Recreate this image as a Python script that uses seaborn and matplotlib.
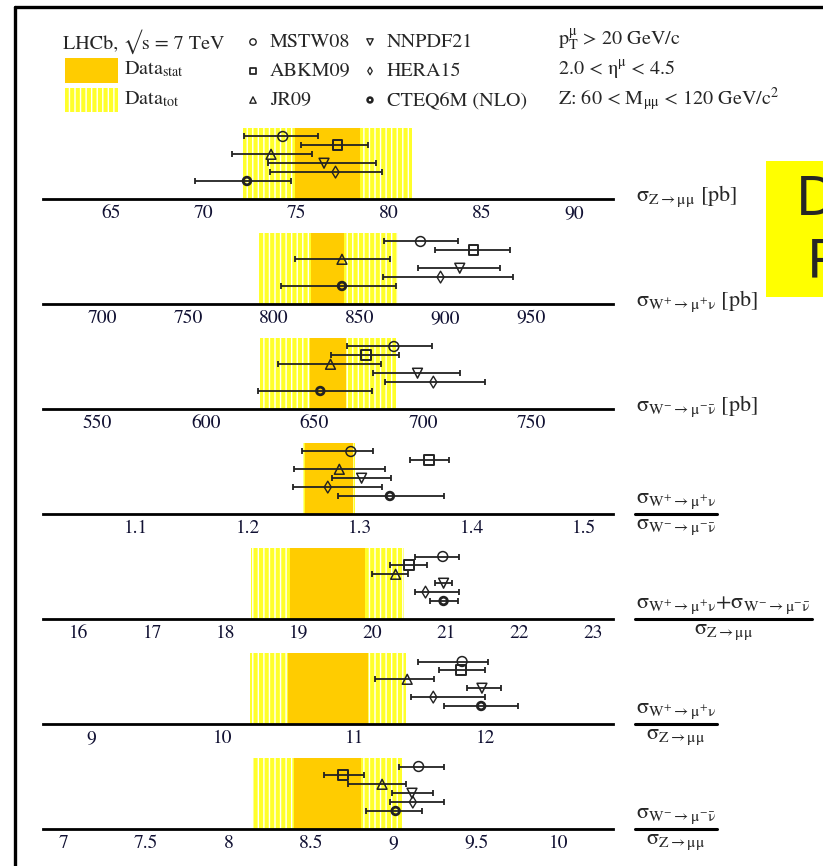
import numpy as np
import pandas as pd
import matplotlib
matplotlib.use("Agg")
import matplotlib.pyplot as plt
import seaborn as sns
from matplotlib.ticker import MultipleLocator, FormatStrFormatter
from matplotlib.patches import Rectangle
from matplotlib.lines import Line2D

# ---------------- data ----------------
models = ["MSTW08", "ABKM09", "JR09", "NNPDF21", "HERA15", "CTEQ6M (NLO)"]

# sigma Z [pb]
z_pred = [74.28, 77.24, 73.65, 76.51, 77.13, 72.35]
z_lo = [72.21, 75.27, 71.54, 73.49, 73.61, 69.56]
z_hi = [76.18, 78.91, 75.87, 79.33, 79.66, 74.73]
z_data = [76.7, 1.75, 4.58]          # central, stat, total

# sigma W+ [pb]
wp_pred = [885.6, 916.5, 839.8, 908.5, 897.3, 839.8]
wp_lo = [864.4, 894.1, 812.5, 883.9, 863.7, 804.5]
wp_hi = [907.3, 937.7, 867.8, 932.2, 939.3, 871.6]
wp_data = [831.4, 9.5, 40.8]

# sigma W- [pb]
wm_pred = [686.6, 673.7, 657.4, 697.5, 704.8, 652.7]
wm_lo = [665.0, 657.8, 633.2, 677.2, 682.5, 623.9]
wm_hi = [704.2, 689.2, 680.7, 717.0, 728.4, 676.5]
wm_data = [656.2, 8.2, 31.4]

# W+/W-
rpm_pred = [1.2918, 1.3616, 1.2815, 1.3014, 1.2712, 1.3267]
rpm_lo = [1.2479, 1.3445, 1.2411, 1.2753, 1.2404, 1.2805]
rpm_hi = [1.3120, 1.3791, 1.3223, 1.3277, 1.3199, 1.3747]
rpm_data = [1.272, 0.0213, 0.0233]

# (W+ + W-)/Z
rwz_pred = [20.957, 20.498, 20.315, 20.968, 20.722, 20.968]
rwz_lo = [20.576, 20.237, 19.992, 20.853, 20.576, 20.785]
rwz_hi = [21.176, 20.743, 20.487, 21.082, 21.176, 21.161]
rwz_data = [19.39, 0.51, 1.04]

# W+/Z
rpz_pred = [11.819, 11.810, 11.402, 11.970, 11.600, 11.964]
rpz_lo = [11.481, 11.641, 11.154, 11.853, 11.431, 11.679]
rpz_hi = [12.014, 11.993, 11.606, 12.116, 11.993, 12.247]
rpz_data = [10.80, 0.305, 0.59]

# W-/Z
rmz_pred = [9.151, 8.691, 8.930, 9.111, 9.116, 9.012]
rmz_lo = [9.035, 8.577, 8.721, 8.988, 8.977, 8.831]
rmz_hi = [9.302, 8.819, 9.077, 9.239, 9.302, 9.174]
rmz_data = [8.60, 0.204, 0.45]

# ---------------- style ----------------
sns.set_theme(style="white")
plt.rcParams["font.family"] = ["STIXGeneral", "DejaVu Sans"]
plt.rcParams["mathtext.fontset"] = "stix"
plt.rcParams["hatch.linewidth"] = 1.0

W, H = 823, 866
fig = plt.figure(figsize=(W / 100, H / 100), dpi=100)
fig.patch.set_facecolor("white")

ov = fig.add_axes([0, 0, 1, 1], zorder=0)
ov.set_xlim(0, W)
ov.set_ylim(H, 0)
ov.axis("off")

STAT_C = "#FFCC00"
TOT_C = "#FFFF2A"
EDGE = "#222222"

marker_style = {
    "MSTW08": dict(marker="o", s=50, linewidth=1.1),
    "ABKM09": dict(marker="s", s=50, linewidth=1.4),
    "JR09": dict(marker="^", s=50, linewidth=1.1),
    "NNPDF21": dict(marker="v", s=50, linewidth=1.1),
    "HERA15": dict(marker="d", s=36, linewidth=1.0),
    "CTEQ6M (NLO)": dict(marker="o", s=30, linewidth=2.0),
}

panels = [
    dict(pred=z_pred, lo=z_lo, hi=z_hi, data=z_data, xlim=(61.34, 92.11), major=5, minor=1),
    dict(pred=wp_pred, lo=wp_lo, hi=wp_hi, data=wp_data, xlim=(665.4, 997.9), major=50, minor=10),
    dict(pred=wm_pred, lo=wm_lo, hi=wm_hi, data=wm_data, xlim=(524.9, 787.6), major=50, minor=10),
    dict(pred=rpm_pred, lo=rpm_lo, hi=rpm_hi, data=rpm_data, xlim=(1.0168, 1.526), major=0.1, minor=0.02),
    dict(pred=rwz_pred, lo=rwz_lo, hi=rwz_hi, data=rwz_data, xlim=(15.514, 23.275), major=1, minor=0.2),
    dict(pred=rpz_pred, lo=rpz_lo, hi=rpz_hi, data=rpz_data, xlim=(8.634, 12.966), major=1, minor=0.2),
    dict(pred=rmz_pred, lo=rmz_lo, hi=rmz_hi, data=rmz_data, xlim=(6.877, 10.328), major=0.5, minor=0.1),
]

ROW_PX = 8.9
Y_AXIS = -18 / ROW_PX
Y_BAND = 5.955
Y_TOP = 6.3
ax_h_px = (Y_TOP - Y_AXIS) * ROW_PX
band_frac = (Y_BAND - Y_AXIS) / (Y_TOP - Y_AXIS)
rows = np.arange(len(models))[::-1]

axis_y_px = [199 + 105 * i for i in range(7)]
X0, X1 = 43, 613

for p, ay in zip(panels, axis_y_px):
    ax = fig.add_axes([X0 / W, 1 - ay / H, (X1 - X0) / W, ax_h_px / H], zorder=2)
    ax.set_facecolor("none")
    c, st, tot = p["data"]
    ax.axvspan(c - tot, c + tot, ymin=0, ymax=band_frac, facecolor=TOT_C,
               edgecolor="white", hatch="|||", linewidth=0, zorder=1)
    ax.axvspan(c - st, c + st, ymin=0, ymax=band_frac, facecolor=STAT_C,
               linewidth=0, zorder=1.5)
    df = pd.DataFrame({"model": models, "value": p["pred"], "lo": p["lo"],
                       "hi": p["hi"], "row": rows})
    ax.errorbar(df["value"], df["row"],
                xerr=[df["value"] - df["lo"], df["hi"] - df["value"]],
                fmt="none", ecolor=EDGE, elinewidth=1.3, capsize=2.4,
                capthick=1.3, zorder=3)
    for _, r in df.iterrows():
        sty = marker_style[r["model"]]
        sns.scatterplot(x=[r["value"]], y=[r["row"]], ax=ax, facecolor="none",
                        edgecolor=EDGE, zorder=4, legend=False, **sty)
    ax.set_xlim(*p["xlim"])
    ax.set_ylim(Y_AXIS, Y_TOP)
    ax.set_xlabel("")
    ax.set_ylabel("")
    ax.set_yticks([])
    for s in ["top", "left", "right"]:
        ax.spines[s].set_visible(False)
    ax.spines["bottom"].set_linewidth(2.0)
    ax.spines["bottom"].set_color("black")
    ax.xaxis.set_major_locator(MultipleLocator(p["major"]))
    ax.xaxis.set_minor_locator(MultipleLocator(p["minor"]))
    ax.xaxis.set_major_formatter(FormatStrFormatter("%g"))
    ax.tick_params(axis="x", which="major", direction="in", length=8.6, width=1.4,
                   labelsize=14, pad=4, color="black", labelcolor="#111133")
    ax.tick_params(axis="x", which="minor", direction="in", length=4.3, width=1.4,
                   color="black")
    for lab in ax.get_xticklabels():
        lab.set_family("STIXGeneral")

# ---------------- header ----------------
HF = 14.5
ov.text(63, 42, "LHCb, \u221As = 7 TeV", fontsize=HF, va="center", ha="left")
ov.add_patch(Rectangle((65, 58), 53, 25, facecolor=STAT_C, linewidth=0))
ov.add_patch(Rectangle((65, 88), 53, 24, facecolor=TOT_C, edgecolor="white",
                       hatch="|||", linewidth=0))
ov.text(124, 69, r"Data$_{\mathrm{stat}}$", fontsize=HF, va="center", ha="left")
ov.text(124, 99, r"Data$_{\mathrm{tot}}$", fontsize=HF, va="center", ha="left")

leg_pos = [(253, 42), (253, 71), (253, 100), (370, 42), (370, 71), (370, 100)]
for m, (lx, ly) in zip(models, leg_pos):
    sty = dict(marker_style[m])
    sty["s"] = sty["s"] * 0.42
    sty["linewidth"] = sty["linewidth"] * 0.9
    sns.scatterplot(x=[lx], y=[ly], ax=ov, facecolor="none", edgecolor=EDGE,
                    legend=False, **sty)
    ov.text(lx + 17, ly, m, fontsize=HF, va="center", ha="left")

ov.text(558, 40, r"p$_{\mathrm{T}}^{\mathrm{\mu}}$ > 20 GeV/c", fontsize=HF, va="center", ha="left")
ov.text(558, 70, r"2.0 < $\mathrm{\eta}^{\mathrm{\mu}}$ < 4.5", fontsize=HF, va="center", ha="left")
ov.text(558, 99, r"Z: 60 < M$_{\mathrm{\mu\mu}}$ < 120 GeV/c$^{2}$", fontsize=HF, va="center", ha="left")

# frame
ov.add_line(Line2D([15, 15], [7, H + 5], color="black", linewidth=2.4))
ov.add_line(Line2D([15, W + 5], [7, 7], color="black", linewidth=2.4))

# yellow overlay box at right (text cut off by the slide edge, as in the reference)
ov.add_patch(Rectangle((766, 161), 70, 136, facecolor="#FFFF00", linewidth=0, clip_on=False))
ov.text(796, 200, "D", fontsize=38, va="center", ha="left", family="DejaVu Sans")
ov.text(807, 262, "P", fontsize=38, va="center", ha="left", family="DejaVu Sans")

# ---------------- right-side labels ----------------
LF = 16
sZ = r"$\mathrm{\sigma}_{\mathrm{Z\rightarrow\mu\mu}}$"
sWp = r"$\mathrm{\sigma}_{\mathrm{W^{+}\rightarrow\mu^{+}\nu}}$"
sWm = r"$\mathrm{\sigma}_{\mathrm{W^{-}\rightarrow\mu^{-}\bar{\nu}}}$"
sSum = (r"$\mathrm{\sigma}_{\mathrm{W^{+}\rightarrow\mu^{+}\nu}}{+}"
        r"\mathrm{\sigma}_{\mathrm{W^{-}\rightarrow\mu^{-}\bar{\nu}}}$")

ov.text(636, axis_y_px[0] - 3, sZ + " [pb]", fontsize=LF, va="center", ha="left")
ov.text(636, axis_y_px[1] - 3, sWp + " [pb]", fontsize=LF, va="center", ha="left")
ov.text(636, axis_y_px[2] - 3, sWm + " [pb]", fontsize=LF, va="center", ha="left")

fracs = [(sWp, sWm, axis_y_px[3]), (sSum, sZ, axis_y_px[4]),
         (sWp, sZ, axis_y_px[5]), (sWm, sZ, axis_y_px[6])]
fig.canvas.draw()
rend = fig.canvas.get_renderer()
for num, den, ay in fracs:
    tn = ov.text(0, ay - 3, num, fontsize=LF, va="bottom", ha="center")
    td = ov.text(0, ay + 3, den, fontsize=LF, va="top", ha="center")
    wn = tn.get_window_extent(rend).width
    wd = td.get_window_extent(rend).width
    wl = max(wn, wd) + 2
    xc = 635 + wl / 2
    tn.set_x(xc)
    td.set_x(xc)
    ov.add_line(Line2D([635, 635 + wl], [ay, ay], color="black", linewidth=2.2))

fig.savefig("out.png", dpi=100, facecolor="white")
